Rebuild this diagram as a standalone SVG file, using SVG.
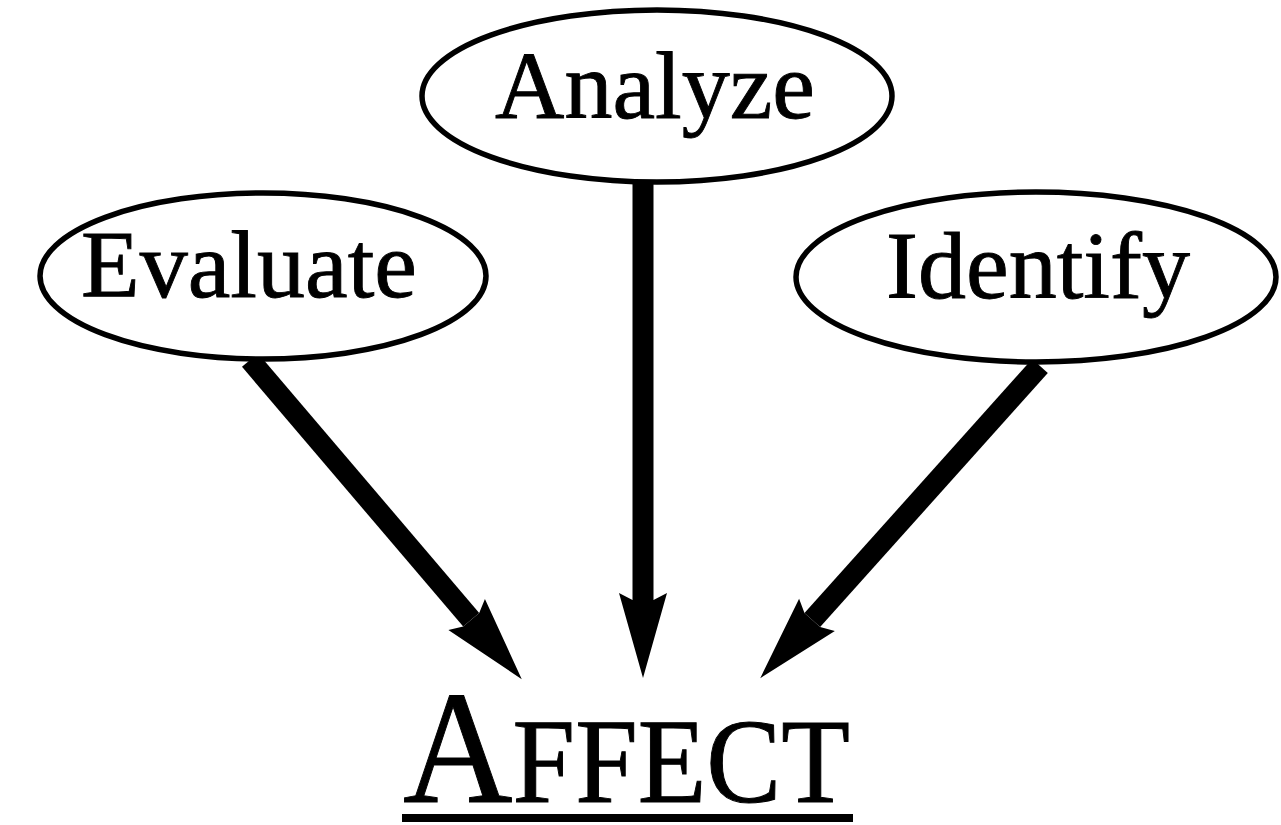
<svg xmlns="http://www.w3.org/2000/svg" width="1281" height="825" viewBox="0 0 1281 825">
  <style>
    .node ellipse { fill: #ffffff; stroke: #000000; stroke-width: 5.5; }
    .label { font-family: "Liberation Serif", "Times New Roman", serif; font-size: 96px; fill: #000000; stroke: #000000; stroke-width: 0.9; text-anchor: middle; }
    .shaft { stroke: #000000; stroke-width: 21; fill: none; marker-end: url(#head); }
    .title { font-family: "Liberation Serif", "Times New Roman", serif; fill: #000000; stroke: #000000; stroke-width: 1; }
  </style>
  <defs>
    <!-- long barbed arrowhead; the shaft ends at the notch (x=7), tip lies 78px beyond -->
    <marker id="head" markerUnits="userSpaceOnUse" viewBox="-1 -26 88 52" markerWidth="88" markerHeight="52" refX="7" refY="0" orient="auto" overflow="visible">
      <path d="M0,-24 L85,0 L0,24 L7,10.5 L7,-10.5 Z" fill="#000000"/>
    </marker>
  </defs>

  <rect width="1281" height="825" fill="#ffffff"/>

  <g id="connectors">
    <line class="shaft" x1="643" y1="182" x2="643" y2="600"/>
    <line class="shaft" x1="250" y1="360" x2="471.2" y2="619.8"/>
    <line class="shaft" x1="1040" y1="366" x2="812.3" y2="620.1"/>
  </g>

  <g id="analyze" class="node">
    <ellipse cx="657" cy="96" rx="235" ry="86"/>
    <text class="label" x="655" y="118">Analyze</text>
  </g>

  <g id="evaluate" class="node">
    <ellipse cx="263" cy="276" rx="223" ry="83"/>
    <text class="label" x="249" y="297">Evaluate</text>
  </g>

  <g id="identify" class="node">
    <ellipse cx="1036" cy="277" rx="240" ry="85"/>
    <text class="label" x="1038" y="298">Identify</text>
  </g>

  <g id="affect">
    <text class="title" x="403" y="802" textLength="447" lengthAdjust="spacingAndGlyphs"><tspan font-size="162">A</tspan><tspan font-size="120">FFECT</tspan></text>
    <rect x="402" y="814" width="451" height="8" fill="#000000"/>
  </g>
</svg>
